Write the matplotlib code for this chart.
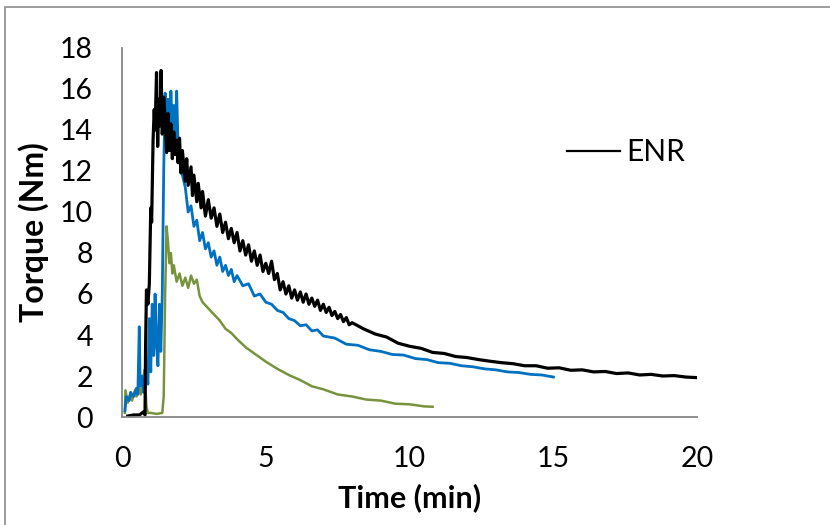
"""Torque vs time curves (ENR mixing)."""

import matplotlib

matplotlib.use("Agg")

import matplotlib.pyplot as plt
from matplotlib.patches import Rectangle

COLOR_ENR = "#000000"
COLOR_BLUE = "#0070c0"
COLOR_GREEN = "#77933c"
AXIS_GRAY = "#868686"

# ENR (black)
enr_t = [0.2, 0.4, 0.6, 0.75, 0.8, 0.82, 0.85, 0.9, 0.95, 1.0, 1.03, 1.08, 1.12, 1.15,
         1.2, 1.24, 1.28, 1.32, 1.36, 1.4, 1.45, 1.5, 1.55, 1.6, 1.65, 1.7, 1.75, 1.8,
         1.85, 1.9, 1.95, 2.0, 2.05, 2.1, 2.2, 2.25, 2.3, 2.4, 2.45, 2.5, 2.6, 2.65,
         2.75, 2.8, 2.9, 3.0, 3.1, 3.2, 3.3, 3.4, 3.5, 3.6, 3.7, 3.8, 3.9, 4.0, 4.1,
         4.2, 4.3, 4.4, 4.5, 4.6, 4.7, 4.8, 4.9, 5.0, 5.1, 5.2, 5.3, 5.4, 5.5, 5.6,
         5.7, 5.8, 5.9, 6.0, 6.1, 6.2, 6.3, 6.4, 6.5, 6.6, 6.7, 6.8, 6.9, 7.0, 7.1,
         7.2, 7.3, 7.4, 7.5, 7.6, 7.7, 7.8, 7.9, 8.0, 8.4, 8.8, 9.2, 9.6, 10.0, 10.4,
         10.8, 11.2, 11.6, 12.0, 12.4, 12.8, 13.2, 13.6, 14.0, 14.4, 14.8, 15.2, 15.6,
         16.0, 16.4, 16.8, 17.2, 17.6, 18.0, 18.4, 18.8, 19.2, 19.6, 20.0]
enr_v = [0.05, 0.1, 0.1, 0.25, 0.1, 3.5, 6.2, 5.5, 6.5, 10.2, 9.5, 13.5, 15.0, 14.0,
         16.8, 13.2, 15.5, 14.2, 16.9, 13.8, 15.6, 14.5, 12.9, 14.8, 13.0, 14.3, 12.6,
         13.9, 12.8, 13.5, 12.4, 13.6, 11.9, 13.0, 11.5, 12.6, 11.3, 12.2, 10.8, 11.8,
         10.5, 11.4, 10.2, 11.0, 9.8, 10.6, 9.7, 10.2, 9.3, 9.9, 9.0, 9.5, 8.7, 9.2,
         8.5, 9.0, 8.1, 8.6, 7.9, 8.4, 7.6, 8.1, 7.4, 7.9, 7.1, 7.5, 7.0, 7.6, 6.7,
         7.0, 6.2, 6.6, 6.0, 6.4, 5.8, 6.2, 5.7, 6.1, 5.6, 6.0, 5.5, 5.8, 5.4, 5.7,
         5.2, 5.5, 5.1, 5.35, 4.95, 5.15, 4.8, 5.0, 4.65, 4.85, 4.5, 4.6, 4.3, 4.05,
         3.9, 3.6, 3.45, 3.35, 3.15, 3.1, 2.95, 2.9, 2.8, 2.72, 2.65, 2.6, 2.5, 2.5,
         2.38, 2.4, 2.28, 2.3, 2.2, 2.22, 2.12, 2.15, 2.05, 2.08, 2.0, 2.02, 1.95, 1.92]

# blue series
blue_t = [0.1, 0.15, 0.25, 0.3, 0.4, 0.5, 0.55, 0.6, 0.63, 0.7, 0.75, 0.8, 0.85, 0.9,
          0.95, 1.0, 1.05, 1.1, 1.15, 1.2, 1.25, 1.3, 1.35, 1.4, 1.45, 1.5, 1.55, 1.6,
          1.65, 1.7, 1.75, 1.8, 1.85, 1.9, 1.95, 2.0, 2.05, 2.1, 2.2, 2.3, 2.4, 2.5,
          2.6, 2.7, 2.8, 2.9, 3.0, 3.1, 3.2, 3.3, 3.4, 3.5, 3.6, 3.7, 3.8, 3.9, 4.0,
          4.2, 4.4, 4.6, 4.8, 5.0, 5.2, 5.4, 5.6, 5.8, 6.0, 6.2, 6.4, 6.6, 6.8, 7.0,
          7.4, 7.8, 8.2, 8.6, 9.0, 9.4, 9.8, 10.2, 10.6, 11.0, 11.4, 11.8, 12.2, 12.6,
          13.0, 13.4, 13.8, 14.2, 14.6, 15.0]
blue_v = [0.3, 1.0, 0.8, 1.2, 1.0, 1.4, 1.1, 4.4, 1.5, 2.0, 1.2, 1.8, 2.5, 1.6, 4.8,
          2.2, 5.5, 3.0, 6.0, 3.5, 2.5, 5.5, 3.2, 6.0, 12.0, 15.8, 13.0, 15.5, 13.8,
          15.9, 14.0, 15.2, 13.5, 15.9, 13.2, 12.5, 12.8, 11.8, 11.2, 10.0, 10.3, 9.3,
          9.6, 8.6, 9.0, 8.2, 8.5, 7.8, 8.1, 7.4, 7.8, 7.1, 7.4, 6.9, 7.2, 6.6, 6.9,
          6.4, 6.5, 5.9, 6.0, 5.6, 5.5, 5.2, 5.1, 4.8, 4.7, 4.45, 4.5, 4.2, 4.25, 3.95,
          3.85, 3.55, 3.5, 3.28, 3.2, 3.05, 3.02, 2.85, 2.8, 2.65, 2.62, 2.5, 2.45, 2.35,
          2.3, 2.2, 2.17, 2.08, 2.05, 1.95]

# green series
green_t = [0.1, 0.12, 0.2, 0.3, 0.35, 0.45, 0.5, 0.6, 0.65, 0.7, 0.78, 0.85, 0.9, 1.0,
           1.2, 1.4, 1.45, 1.5, 1.55, 1.6, 1.65, 1.7, 1.75, 1.8, 1.9, 2.0, 2.1, 2.2,
           2.3, 2.4, 2.5, 2.6, 2.7, 2.8, 3.0, 3.2, 3.4, 3.6, 3.8, 4.0, 4.3, 4.6, 5.0,
           5.4, 5.8, 6.2, 6.6, 7.0, 7.5, 8.0, 8.5, 9.0, 9.5, 10.0, 10.5, 10.8]
green_v = [0.2, 1.3, 0.7, 1.2, 0.8, 1.3, 1.0, 1.4, 1.1, 1.5, 2.3, 0.5, 0.2, 0.2, 0.15,
           0.2, 1.0, 6.0, 9.3, 8.5, 7.5, 8.0, 7.0, 7.4, 6.6, 7.0, 6.4, 6.8, 6.3, 6.9,
           6.5, 6.7, 5.9, 5.6, 5.3, 5.0, 4.7, 4.3, 4.1, 3.8, 3.4, 3.1, 2.7, 2.35, 2.05,
           1.8, 1.5, 1.35, 1.1, 1.0, 0.85, 0.8, 0.65, 0.62, 0.52, 0.5]

x_ticks = [0, 5, 10, 15, 20]
y_ticks = [0, 2, 4, 6, 8, 10, 12, 14, 16, 18]

plt.rcParams["font.family"] = ["Lato", "DejaVu Sans"]

fig = plt.figure(figsize=(8.3, 5.25), dpi=100)
ax = fig.add_axes([0.147, 0.2057, 0.693, 0.7029])

ax.plot(green_t, green_v, color=COLOR_GREEN, linewidth=1.8)
ax.plot(blue_t, blue_v, color=COLOR_BLUE, linewidth=2.0)
(enr_line,) = ax.plot(enr_t, enr_v, color=COLOR_ENR, linewidth=2.3, label="ENR")

ax.set_xlim(0, 20)
ax.set_ylim(0, 18)
ax.set_xticks(x_ticks)
ax.set_yticks(y_ticks)
ax.tick_params(length=0, labelsize=20.5, colors="#000000")
ax.tick_params(axis="y", pad=21)
ax.tick_params(axis="x", pad=21)
for side in ("top", "right"):
    ax.spines[side].set_visible(False)
for side in ("left", "bottom"):
    ax.spines[side].set_color(AXIS_GRAY)
    ax.spines[side].set_linewidth(1.3)

ax.set_xlabel("Time (min)", fontsize=22, fontweight="bold", labelpad=8)
ax.set_ylabel("Torque (Nm)", fontsize=23, fontweight="bold", labelpad=8)

leg = ax.legend(handles=[enr_line], frameon=False, fontsize=21.5, loc="center left",
                bbox_to_anchor=(0.774, 0.718), handlelength=1.77, handletextpad=0.2,
                borderpad=0, borderaxespad=0)
leg.get_lines()[0].set_linewidth(1.6)

# outer chart frame (cropped at right and bottom)
fig.patches.append(Rectangle((5 / 830, -0.1), 1.2, 1 - 7 / 525 + 0.1,
                             transform=fig.transFigure, fill=False,
                             edgecolor="#8c8c8c", linewidth=1.2))

fig.savefig("out.png", dpi=100)
